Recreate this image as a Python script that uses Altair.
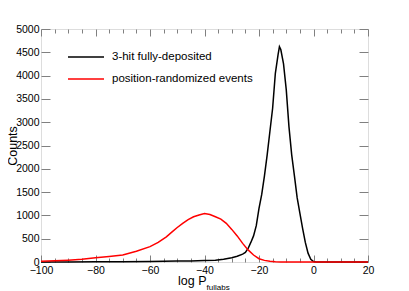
import altair as alt
import pandas as pd

# ---- data ----
black_x = [-100, -90, -80, -70, -60, -55, -50, -45, -40, -36, -33, -30, -28, -26, -25, -24,
           -23, -22, -21, -20, -19, -18, -17, -16, -15, -14, -13, -12.5, -12, -11, -10,
           -9, -8, -7, -6, -5, -4, -3, -2, -1, 0, 1, 20]
black_y = [0, 2, 4, 7, 12, 16, 19, 22, 30, 40, 60, 90, 125, 170, 205, 290,
           420, 560, 780, 1150, 1450, 1850, 2300, 2800, 3300, 4050, 4450, 4620, 4560, 4250, 3700,
           2900, 2300, 1850, 1380, 1050, 720, 420, 190, 60, 10, 0, 0]

red_x = [-100, -95, -90, -85, -80, -75, -70, -65, -60, -57, -54, -52, -50, -48, -46, -44,
         -42, -40, -38, -36, -34, -32, -30, -28, -26, -24, -22, -20, -18, -16, -14, -12, -10, 20]
red_y = [15, 25, 40, 60, 90, 120, 150, 230, 330, 420, 540, 640, 740, 830, 910, 970,
         1010, 1040, 1020, 970, 920, 830, 700, 560, 400, 260, 150, 70, 35, 15, 6, 2, 0, 0]

series_names = ["3-hit fully-deposited", "position-randomized events"]
series_colors = ["black", "red"]

x_major = [-100, -80, -60, -40, -20, 0, 20]
x_all = list(range(-100, 21, 5))
y_major = list(range(0, 5001, 500))

df = pd.concat([
    pd.DataFrame({"x": black_x, "count": black_y, "series": series_names[0]}),
    pd.DataFrame({"x": red_x, "count": red_y, "series": series_names[1]}),
])

W, H = 327, 233
FONT = "Liberation Sans"
GRAY = "#808080"

xs = alt.Scale(domain=[-100, 20], nice=False, zero=False)
ys = alt.Scale(domain=[0, 5000], nice=False)

# Layer A: the curves, labels, legend
ax_bottom = alt.Axis(values=x_major, format="d", ticks=False, tickSize=0, domain=False, grid=False,
                     labelFont=FONT, labelFontSize=10.5, labelColor="black", labelPadding=3,
                     labelFlush=False, labelOverlap=False,
                     title="log P", titleFont=FONT, titleFontSize=12.5,
                     titleFontWeight="normal", titleColor="black", titleX=136.5, titleY=22,
                     titleAlign="left", titleBaseline="alphabetic", titleAnchor="start")
ax_left = alt.Axis(values=y_major, format="d", ticks=False, tickSize=0, domain=False, grid=False,
                   labelFont=FONT, labelFontSize=10.5, labelColor="black", labelPadding=2,
                   labelFlush=False, labelOverlap=False,
                   title="Counts", titleFont=FONT, titleFontSize=12.5,
                   titleFontWeight="normal", titleColor="black", titleX=-24.5, titleY=116.5,
                   titleAngle=270, titleAlign="center", titleBaseline="alphabetic")

lines = alt.Chart(df).mark_line(strokeWidth=1.5, interpolate="linear").encode(
    x=alt.X("x:Q", scale=xs, axis=ax_bottom),
    y=alt.Y("count:Q", scale=ys, axis=ax_left),
    color=alt.Color("series:N", scale=alt.Scale(domain=series_names, range=series_colors),
                    legend=alt.Legend(title=None, orient="none", legendX=38, legendY=21,
                                      symbolType="M-3,0L3,0", symbolSize=144,
                                      symbolStrokeWidth=1.5, labelFont=FONT,
                                      labelFontSize=11.5, labelColor="black",
                                      labelOffset=19, rowPadding=9, padding=0)),
)

tick_size = {"condition": {"test": "datum.value % 20 === 0", "value": 7}, "value": 4}

# Layer B: inward ticks on bottom and left edges
ax_b_ticks = alt.Axis(orient="top", offset=-H, values=x_all, labels=False, domain=False,
                      grid=False, tickSize=tick_size, tickColor=GRAY, title=None)
ax_l_ticks = alt.Axis(orient="right", offset=-W, values=y_major, labels=False, domain=False,
                      grid=False, tickSize=9, tickColor=GRAY, title=None)
ticks_b = alt.Chart(df).mark_line(opacity=0).encode(
    x=alt.X("x:Q", scale=xs, axis=ax_b_ticks),
    y=alt.Y("count:Q", scale=ys, axis=ax_l_ticks),
    detail="series:N",
)

# Layer C: inward ticks on top and right edges
ax_t_ticks = alt.Axis(orient="bottom", offset=-H, values=x_all, labels=False, domain=False,
                      grid=False, tickSize=tick_size, tickColor=GRAY, title=None)
ax_r_ticks = alt.Axis(orient="left", offset=-W, values=y_major, labels=False, domain=False,
                      grid=False, tickSize=9, tickColor=GRAY, title=None)
ticks_c = alt.Chart(df).mark_line(opacity=0).encode(
    x=alt.X("x:Q", scale=xs, axis=ax_t_ticks),
    y=alt.Y("count:Q", scale=ys, axis=ax_r_ticks),
    detail="series:N",
)

# Layer D: subscript of the x title
ax_sub = alt.Axis(orient="bottom", values=[], labels=False, ticks=False, domain=False,
                  grid=False, title="fullabs", titleFont=FONT, titleFontSize=8,
                  titleFontWeight="normal", titleColor="black", titleX=165, titleY=27,
                  titleAlign="left", titleBaseline="alphabetic", titleAnchor="start")
sub = alt.Chart(df).mark_line(opacity=0).encode(
    x=alt.X("x:Q", scale=xs, axis=ax_sub),
    y=alt.Y("count:Q", scale=ys, axis=None),
    detail="series:N",
)

chart = alt.layer(lines, ticks_b, ticks_c, sub).resolve_axis(
    x="independent", y="independent"
).properties(
    width=W, height=H,
    padding={"left": 33, "top": 21, "right": 20, "bottom": 29},
    autosize=alt.AutoSizeParams(type="none"),
).configure_view(stroke=GRAY, strokeWidth=1).configure(background="white")

chart.save("out.html", embed_options={"renderer": "svg", "actions": False})
